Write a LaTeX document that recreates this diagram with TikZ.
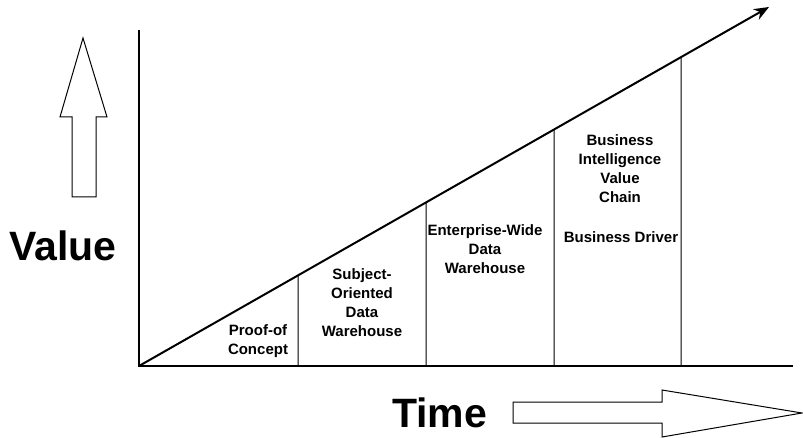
\documentclass[tikz,border=0pt]{standalone}
\usepackage{fontspec}
\setmainfont{Liberation Sans}
\usetikzlibrary{arrows.meta}
\begin{document}
\begin{tikzpicture}[x=1pt,y=-1pt,
  axis/.style={line width=2pt},
  divider/.style={line width=1pt},
  outline/.style={line width=1pt,line join=miter},
  lbl/.style={font=\fontsize{15}{19}\selectfont\bfseries,align=center,inner sep=0pt},
  big/.style={font=\fontsize{41}{42}\selectfont\bfseries,inner sep=0pt,anchor=base west}]
\useasboundingbox (0,0) rectangle (803,438);
% axes
\coordinate (O) at (139,366);
\coordinate (ytop) at (139,30);
\coordinate (xend) at (793,366);
\coordinate (tip) at (769,7);
\draw[axis] (ytop) -- (O) -- (xend);
\draw[axis,-{Stealth[length=15pt,width=12pt]}] (O) -- (tip);
% dividers
\foreach \x/\n in {298/a,426/b,554/c,681/d}{
  \coordinate (\n b) at (\x,366);
  \path (O) -- (tip) coordinate[pos={(\x-139)/630}] (\n t);
  \draw[divider] (\n b) -- (\n t);
}
% labels
\node[lbl] (poc) at (258,341) {Proof-of\\Concept};
\node[lbl] (sodw) at (362,303) {Subject-\\Oriented\\Data\\Warehouse};
\node[lbl] (ewdw) at (485,249) {Enterprise-Wide\\Data\\Warehouse};
\node[lbl] (bivc) at (620,169) {Business\\Intelligence\\Value\\Chain};
\node[lbl] (bd) at (621,237) {Business Driver};
% big labels
\node[big] (value) at (9,261) {Value};
\node[big] (time) at (392,427) {Time};
% up arrow
\draw[outline] (83,38) -- (107,117) -- (96,117) -- (96,197) -- (72,197) -- (72,117) -- (60,117) -- cycle;
% right arrow
\draw[outline] (802,413) -- (662,437) -- (662,423) -- (513,423) -- (513,402) -- (662,402) -- (662,390) -- cycle;
\end{tikzpicture}
\end{document}
